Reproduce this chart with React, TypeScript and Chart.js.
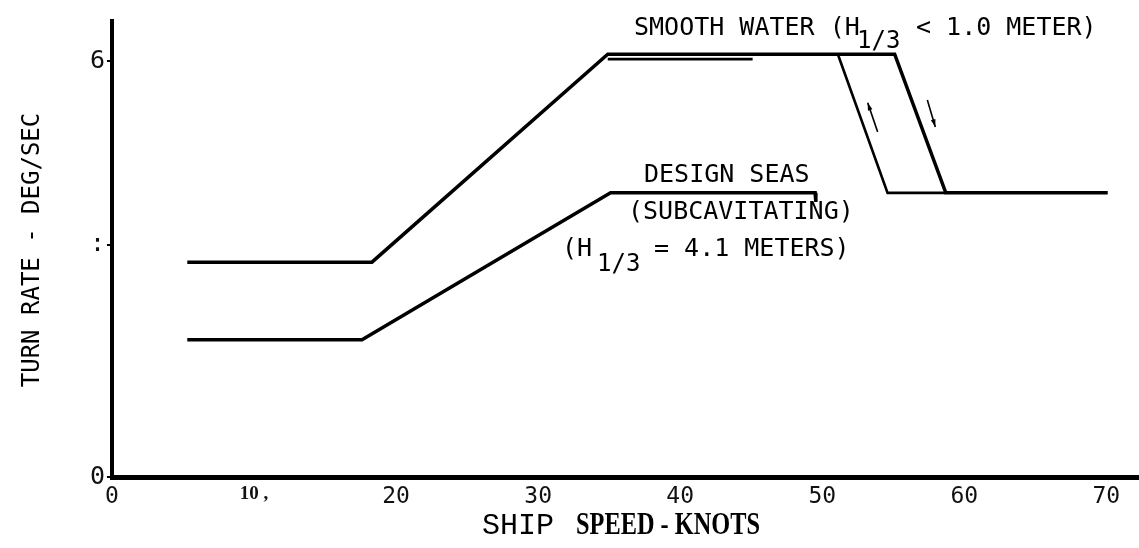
import React, { useEffect, useRef } from "react";
import { Chart, registerables } from "chart.js";

Chart.register(...registerables);

// Axis ticks
const speedTicks = [0, 10, 20, 30, 40, 50, 60, 70];
const speedTickLabels = ["0", "10 ,", "20", "30", "40", "50", "60", "70"];
const rateTicks = [0, 3.35, 6];
const rateTickLabels = ["0", ":", "6"];

// Smooth water (H1/3 < 1.0 m): turn rate vs ship speed
const smoothSpeed = [5.3, 18.3, 34.9, 55.1, 58.7, 70.1];
const smoothRate = [3.1, 3.1, 6.1, 6.1, 4.1, 4.1];

// Return branch of the hysteresis loop at the transition speed
const returnSpeed = [51.1, 54.6, 58.7];
const returnRate = [6.1, 4.1, 4.1];

// Short doubled stroke under the smooth-water plateau
const overlapSpeed = [34.9, 45.1];
const overlapRate = [6.03, 6.03];

// Design seas (subcavitating, H1/3 = 4.1 m)
const designSpeed = [5.3, 17.6, 35.1, 49.5, 49.55];
const designRate = [1.98, 1.98, 4.1, 4.1, 3.97];

// Direction arrows along the loop
const upArrowSpeed = [53.9, 53.2];
const upArrowRate = [4.98, 5.4];
const downArrowSpeed = [57.4, 57.96];
const downArrowRate = [5.44, 5.05];

const MONO = "'DejaVu Sans Mono', monospace";

export default function App() {
  const ref = useRef<HTMLCanvasElement>(null);

  useEffect(() => {
    const canvas = ref.current;
    if (!canvas) return;

    const pts = (xs: number[], ys: number[]) => xs.map((x, i) => ({ x, y: ys[i] }));
    const series = (label: string, xs: number[], ys: number[], w: number) => ({
      label,
      data: pts(xs, ys),
      borderColor: "#000",
      backgroundColor: "#000",
      borderWidth: w,
      pointRadius: 0,
      fill: false,
      tension: 0,
      borderCapStyle: "butt" as const,
      borderJoinStyle: "miter" as const,
    });

    const annotations = {
      id: "annotations",
      afterDatasetsDraw(chart: any) {
        const { ctx } = chart;
        const xs = chart.scales.x;
        const ys = chart.scales.y;
        ctx.save();
        ctx.fillStyle = "#000";
        ctx.strokeStyle = "#000";

        const arrow = (sx: number[], sy: number[]) => {
          const x0 = xs.getPixelForValue(sx[0]);
          const y0 = ys.getPixelForValue(sy[0]);
          const x1 = xs.getPixelForValue(sx[1]);
          const y1 = ys.getPixelForValue(sy[1]);
          ctx.lineWidth = 1.6;
          ctx.beginPath();
          ctx.moveTo(x0, y0);
          ctx.lineTo(x1, y1);
          ctx.stroke();
          const a = Math.atan2(y1 - y0, x1 - x0);
          const h = 8;
          ctx.beginPath();
          ctx.moveTo(x1, y1);
          ctx.lineTo(x1 - h * Math.cos(a - 0.3), y1 - h * Math.sin(a - 0.3));
          ctx.lineTo(x1 - h * Math.cos(a + 0.3), y1 - h * Math.sin(a + 0.3));
          ctx.closePath();
          ctx.fill();
        };
        arrow(upArrowSpeed, upArrowRate);
        arrow(downArrowSpeed, downArrowRate);

        const text = (s: string, x: number, y: number, font: string) => {
          ctx.font = font;
          ctx.textAlign = "left";
          ctx.textBaseline = "alphabetic";
          ctx.fillText(s, x, y);
        };
        const fitText = (s: string, x: number, y: number, font: string, width: number) => {
          ctx.font = font;
          ctx.textAlign = "left";
          ctx.textBaseline = "alphabetic";
          const m = ctx.measureText(s).width;
          ctx.save();
          ctx.translate(x, y);
          ctx.scale(width / m, 1);
          ctx.fillText(s, 0, 0);
          ctx.restore();
        };

        const f25 = `25px ${MONO}`;
        const f24 = `24px ${MONO}`;

        // Smooth water label
        text("SMOOTH WATER (H", 634, 35, f25);
        text("1/3", 857, 48, f24);
        text("< 1.0 METER)", 916, 35, f25);

        // Design seas label
        text("DESIGN SEAS", 644, 182, f25);
        text("(SUBCAVITATING)", 628, 219, f25);
        text("(H", 562, 256, f25);
        text("1/3", 597, 271, f24);
        text("= 4.1 METERS)", 654, 256, f25);

        // Y axis title
        ctx.save();
        ctx.translate(33, 250);
        ctx.rotate(-Math.PI / 2);
        ctx.font = `24px ${MONO}`;
        ctx.textAlign = "center";
        ctx.textBaseline = "middle";
        ctx.fillText("TURN RATE - DEG/SEC", 0, 0);
        ctx.restore();

        // X axis title
        text("SHIP", 482, 534, "30px 'Liberation Mono', monospace");
        fitText("SPEED - KNOTS", 576, 534, "bold 31px 'Liberation Serif', serif", 184);

        ctx.restore();
      },
    };

    const chart = new Chart(canvas, {
      type: "line",
      data: {
        datasets: [
          series("Smooth water", smoothSpeed, smoothRate, 3.5),
          series("Smooth water return", returnSpeed, returnRate, 2.6),
          series("Smooth water plateau", overlapSpeed, overlapRate, 2.6),
          series("Design seas", designSpeed, designRate, 3.5),
        ],
      },
      options: {
        animation: false,
        responsive: false,
        devicePixelRatio: 1,
        layout: { padding: { top: 21, right: 0, bottom: 0, left: 0 } },
        plugins: {
          legend: { display: false },
          tooltip: { enabled: false },
          title: { display: false },
        },
        scales: {
          x: {
            type: "linear",
            min: 0,
            max: 72.3,
            afterFit: (s: any) => {
              s.height = 71;
            },
            afterBuildTicks: (s: any) => {
              s.ticks = speedTicks.map((v) => ({ value: v }));
            },
            border: { display: true, color: "#000", width: 5 },
            grid: { display: true, drawOnChartArea: false, drawTicks: false },
            ticks: {
              color: "#111",
              padding: 6,
              maxRotation: 0,
              autoSkip: false,
              font: (c: any) =>
                c.tick && c.tick.value === 10
                  ? { family: "'Liberation Serif', serif", weight: "bold", size: 19 }
                  : { family: MONO, size: 23 },
              callback: (v: any) => {
                const i = speedTicks.indexOf(Number(v));
                return i >= 0 ? speedTickLabels[i] : "";
              },
            },
          },
          y: {
            type: "linear",
            min: 0,
            max: 6.58,
            afterFit: (s: any) => {
              s.width = 112;
            },
            afterBuildTicks: (s: any) => {
              s.ticks = rateTicks.map((v) => ({ value: v }));
            },
            border: { display: true, color: "#000", width: 4 },
            grid: {
              display: true,
              drawOnChartArea: false,
              drawTicks: true,
              tickLength: 5,
              color: "#000",
              lineWidth: 2,
            },
            ticks: {
              color: "#111",
              padding: 2,
              font: { family: MONO, size: 25 },
              callback: (v: any) => {
                const i = rateTicks.indexOf(Number(v));
                return i >= 0 ? rateTickLabels[i] : "";
              },
            },
          },
        },
      },
      plugins: [annotations],
    });

    return () => chart.destroy();
  }, []);

  return (
    <div style={{ position: "absolute", left: 0, top: 0, width: 1139, height: 548, background: "#fff" }}>
      <canvas ref={ref} width={1139} height={548} style={{ display: "block" }} />
    </div>
  );
}
